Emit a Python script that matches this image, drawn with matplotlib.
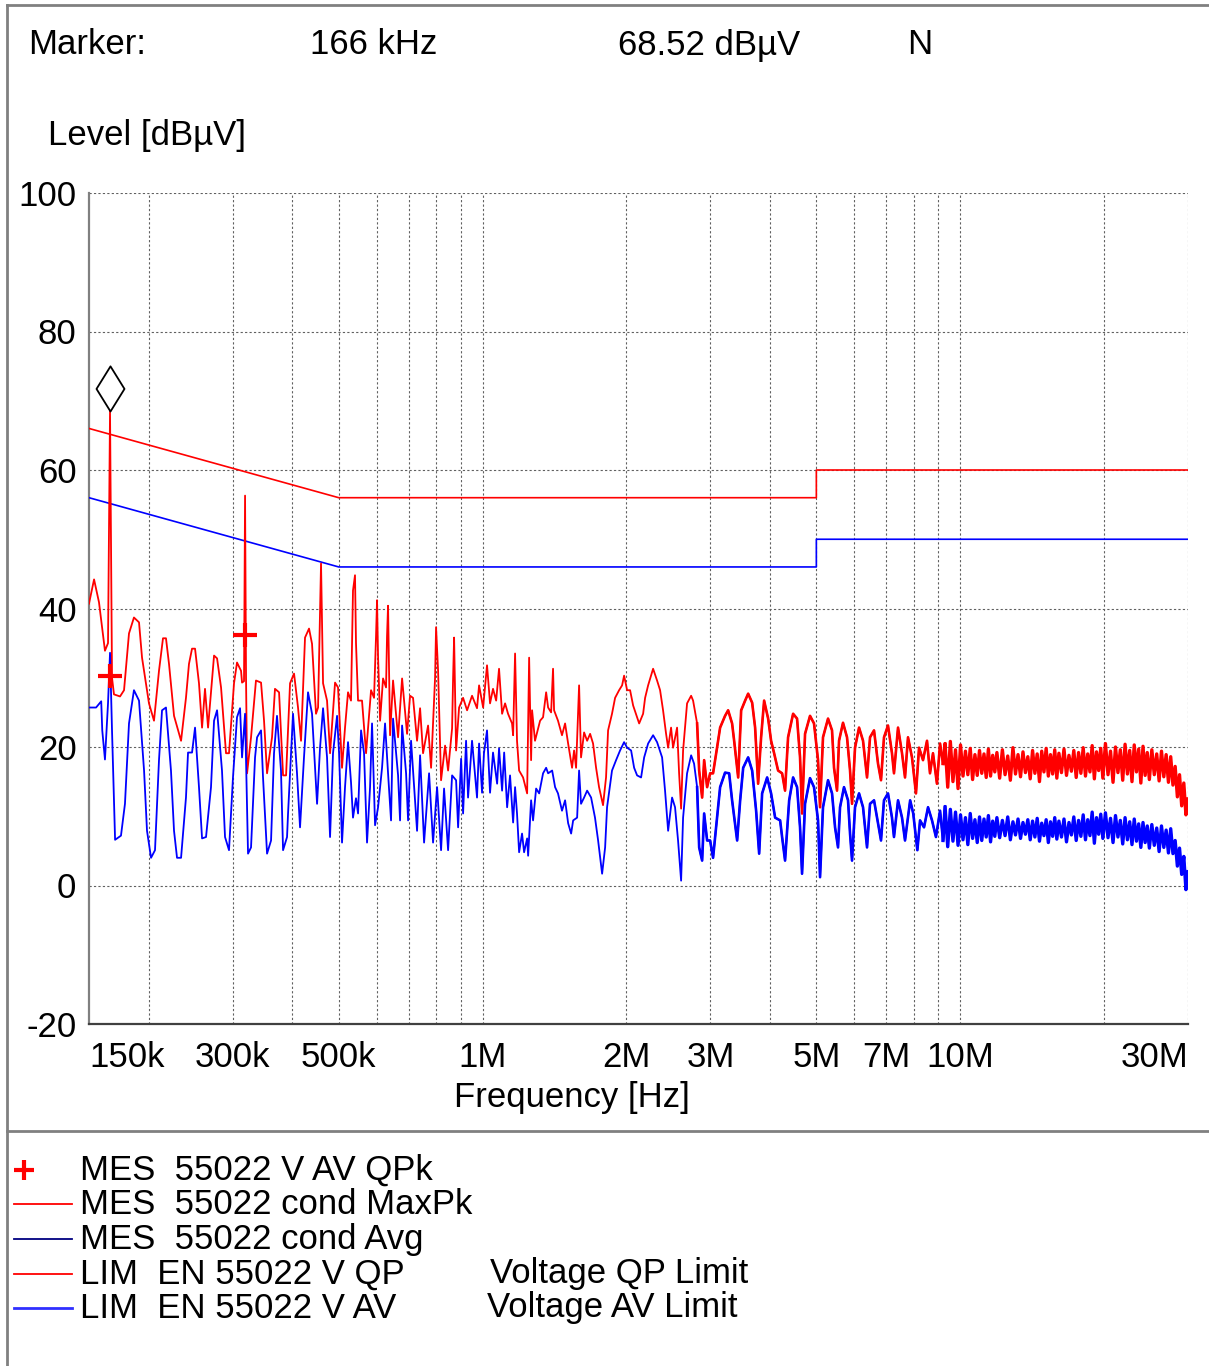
import matplotlib
matplotlib.use("Agg")
import matplotlib.pyplot as plt
from matplotlib.lines import Line2D
from matplotlib.path import Path
from matplotlib.ticker import FixedLocator, NullFormatter
from matplotlib.transforms import ScaledTranslation
import numpy as np

plt.rcParams['font.family'] = ['Liberation Sans', 'DejaVu Sans']

# ---------------------------------------------------------------------------
# Data (frequency in kHz, level in dBuV)
# ---------------------------------------------------------------------------

# MaxPk trace, 150 kHz - 1 MHz
red_f_low = [150.0, 153.7, 157.4, 162.0, 164.4, 166.0, 167.6, 169.2, 174.2, 177.6,
             181.9, 186.3, 190.9, 193.7, 200.3, 205.2, 210.2, 214.3, 217.4, 220.6,
             226.0, 233.8, 239.4, 242.9, 246.5, 250.1, 254.9, 258.7, 262.4, 266.3,
             274.1, 278.1, 283.5, 290.4, 294.6, 301.8, 306.2, 312.2, 313.7, 316.7,
             318.3, 319.8, 321.4, 327.6, 335.5, 343.8, 348.8, 353.9, 362.5, 367.7,
             375.0, 382.3, 387.9, 395.4, 403.1, 410.9, 416.9, 425.0, 433.3, 439.6,
             448.1, 452.6, 456.9, 459.1, 461.3, 463.6, 472.6, 479.5, 491.2, 498.3,
             508.0, 515.4, 522.9, 530.5, 535.6, 540.8, 543.4, 548.8, 559.4, 570.4,
             584.3, 592.8, 598.5, 601.4, 604.4, 610.3, 619.1, 628.1, 631.1, 634.2,
             640.4, 649.7, 665.6, 678.6, 695.1, 705.2, 715.4, 729.4, 740.1, 750.8,
             769.2, 780.4, 795.6, 799.4, 807.2, 818.9, 834.9, 847.1, 863.6, 867.8,
             872.0, 880.4, 893.2, 910.6, 928.3, 950.8, 973.9, 983.6]
red_l_low = [40.7, 44.2, 40.9, 33.9, 35.0, 68.5, 30.0, 27.6, 27.3, 28.2,
             36.4, 38.7, 38.0, 32.9, 26.3, 23.8, 31.0, 35.7, 35.7, 32.0,
             24.5, 20.9, 27.1, 32.0, 34.2, 34.2, 29.2, 22.8, 28.4, 22.8,
             33.2, 32.8, 28.6, 19.1, 19.1, 29.2, 32.2, 31.0, 29.3, 29.5,
             56.3, 30.0, 16.2, 21.4, 29.6, 29.3, 23.8, 16.2, 21.4, 28.4,
             27.9, 15.9, 15.9, 29.2, 30.6, 25.7, 20.9, 35.8, 37.1, 34.9,
             24.8, 25.7, 40.0, 46.5, 38.0, 29.2, 26.7, 19.1, 29.3, 28.6,
             17.0, 22.8, 27.9, 26.7, 42.6, 44.8, 35.0, 26.7, 26.7, 19.1,
             28.2, 27.1, 36.0, 41.2, 33.0, 23.8, 29.9, 28.6, 36.0, 40.4,
             21.7, 29.6, 21.4, 29.9, 21.9, 27.4, 27.1, 20.9, 25.6, 19.1,
             23.1, 17.0, 30.0, 37.3, 31.0, 15.2, 20.2, 16.6, 22.7, 30.0,
             35.8, 19.5, 25.7, 27.1, 25.3, 27.4, 25.6, 28.9]

# MaxPk trace, 1 MHz - 9.2 MHz
red_f_mid = [1003, 1022, 1037, 1052, 1068, 1083, 1099, 1115, 1131, 1153,
             1159, 1170, 1181, 1193, 1216, 1240, 1252, 1264, 1270, 1288,
             1320, 1339, 1359, 1372, 1392, 1405, 1412, 1439, 1467, 1489,
             1511, 1540, 1555, 1570, 1593, 1608, 1632, 1656, 1680, 1704,
             1729, 1754, 1788, 1814, 1832, 1867, 1895, 1932, 1960, 1979,
             2008, 2037, 2067, 2107, 2128, 2169, 2190, 2222, 2276, 2320,
             2354, 2388, 2423, 2447, 2482, 2506, 2555, 2580, 2605, 2630,
             2681, 2734, 2760, 2814, 2842, 2883, 2911, 2953, 2996, 3039,
             3098, 3144, 3220, 3268, 3331, 3364, 3430, 3480, 3547, 3599,
             3669, 3722, 3776, 3831, 3887, 3963, 4020, 4079, 4158, 4239,
             4300, 4363, 4470, 4556, 4622, 4667, 4735, 4850, 4944, 5041,
             5090, 5163, 5290, 5393, 5445, 5524, 5578, 5686, 5797, 5882,
             5939, 6025, 6143, 6262, 6384, 6477, 6603, 6731, 6829, 6928,
             7063, 7200, 7270, 7413, 7557, 7667, 7778, 7929, 8083, 8203,
             8362, 8525, 8648, 8774, 8943, 9078, 9209]
red_l_mid = [25.7, 31.8, 26.3, 28.4, 26.7, 31.3, 24.8, 26.3, 24.8, 23.4,
             21.7, 33.5, 20.9, 16.6, 15.6, 13.3, 32.9, 18.1, 25.3, 20.9,
             23.8, 24.3, 27.9, 25.7, 25.0, 31.3, 25.3, 23.8, 21.7, 23.4,
             20.5, 17.0, 19.5, 17.0, 28.9, 18.5, 22.1, 20.9, 21.9, 20.5,
             17.0, 14.2, 11.6, 15.6, 22.4, 24.8, 27.1, 28.2, 28.9, 30.3,
             28.2, 28.2, 26.0, 24.3, 23.4, 24.8, 27.1, 28.9, 31.3, 29.6,
             28.2, 25.3, 21.9, 19.9, 22.8, 19.9, 22.8, 16.2, 11.1, 19.5,
             26.3, 27.4, 26.7, 23.4, 16.6, 12.7, 18.1, 14.2, 16.2, 16.2,
             19.9, 22.8, 24.5, 25.3, 23.4, 20.9, 15.6, 25.3, 26.7, 27.7,
             26.4, 22.8, 14.7, 21.4, 26.7, 24.1, 20.9, 19.1, 16.6, 16.2,
             13.7, 21.4, 24.8, 24.1, 18.5, 10.4, 21.9, 24.5, 23.4, 18.1,
             11.3, 21.4, 24.1, 22.4, 17.0, 13.7, 20.9, 23.5, 21.4, 16.6,
             11.8, 19.9, 22.8, 20.9, 15.6, 21.4, 22.4, 17.6, 15.2, 21.4,
             23.1, 19.1, 16.2, 22.8, 19.1, 15.6, 21.4, 18.5, 13.3, 19.9,
             18.1, 20.9, 16.2, 19.1, 14.7, 20.5, 17.6]

# 9.3 MHz - 30 MHz (shared by both traces)
f_high = [9300, 9420, 9540, 9660, 9780, 9900,
          10020, 10140, 10260, 10380, 10500, 10620, 10740, 10860, 10980,
          11100, 11220, 11340, 11460, 11580, 11700, 11820, 11940,
          12100, 12260, 12420, 12580, 12740, 12900,
          13060, 13220, 13380, 13540, 13700, 13860,
          14020, 14180, 14340, 14500, 14660, 14820, 14980,
          15140, 15300, 15460, 15620, 15780, 15940,
          16100, 16300, 16500, 16700, 16900, 17100, 17300, 17500, 17700, 17900,
          18100, 18300, 18500, 18700, 18900, 19100, 19300, 19500, 19700, 19900,
          20150, 20400, 20650, 20900, 21150, 21400, 21650, 21900, 22150, 22400,
          22650, 22900, 23150, 23400, 23650, 23900, 24150, 24400, 24650, 24900,
          25200, 25500, 25800, 26100, 26400, 26700, 27000, 27300, 27600, 27900,
          28200, 28500, 28800, 29100, 29400, 29700, 30000]
red_l_high = [20.5, 14.2, 20.8, 15.0, 19.6, 14.0,
              20.3, 15.8, 19.4, 16.0, 19.8, 15.3, 18.9, 15.9, 19.5,
              16.2, 19.0, 15.6, 19.7, 15.8, 18.8, 16.4, 19.2,
              15.5, 19.6, 16.0, 18.7, 15.2, 19.9,
              16.1, 18.9, 15.7, 19.3, 16.3, 18.6,
              15.4, 19.5, 16.2, 19.0, 15.0, 19.4, 16.4,
              19.8, 15.8, 18.9, 16.1, 19.6, 15.5,
              19.1, 16.3, 19.7, 15.9, 18.8, 16.5, 19.5, 15.6, 19.2, 16.2,
              19.9, 15.8, 19.0, 16.4, 20.2, 15.4, 19.3, 16.6, 19.8, 15.5,
              20.5, 16.0, 19.4, 14.9, 20.0, 16.3, 19.6, 15.2, 20.4, 16.1,
              19.5, 15.0, 20.3, 16.4, 19.7, 14.8, 20.1, 15.9, 19.2, 15.3,
              19.6, 16.0, 19.0, 15.1, 19.4, 15.7, 18.9, 14.9, 18.6, 14.5,
              17.2, 12.8, 16.0, 11.5, 14.8, 10.2, 12.5]

# Avg trace, 150 kHz - 1 MHz
blue_f_low = [150.0, 155.2, 159.1, 159.9, 162.0, 164.4, 166.0, 167.6, 170.1, 175.0,
              178.4, 181.9, 186.3, 190.9, 195.6, 198.4, 202.3, 206.2, 210.2, 213.3,
              217.4, 222.7, 226.0, 229.3, 233.8, 239.4, 241.8, 246.5, 250.1, 254.9,
              258.7, 263.7, 270.1, 274.1, 278.1, 284.8, 289.0, 294.6, 300.3, 306.2,
              310.7, 313.7, 318.3, 322.9, 327.6, 334.0, 337.3, 343.8, 347.1, 353.9,
              360.8, 366.0, 371.3, 378.5, 382.3, 389.7, 391.6, 401.1, 408.9, 414.9,
              422.9, 431.2, 439.6, 450.4, 456.9, 463.6, 472.6, 479.5, 486.4, 496.0,
              500.8, 508.0, 515.4, 522.9, 530.5, 535.6, 543.4, 548.8, 556.8, 564.9,
              573.1, 581.5, 587.1, 595.7, 604.4, 616.1, 625.1, 634.2, 643.4, 649.7,
              665.6, 672.0, 678.6, 691.8, 698.5, 708.6, 715.4, 729.4, 740.1, 754.5,
              772.9, 787.9, 803.3, 818.9, 830.8, 847.1, 863.6, 880.4, 889.0, 902.0,
              910.6, 923.8, 932.7, 950.8, 973.9, 983.6, 997.9, 1007]
blue_l_low = [25.7, 25.7, 26.6, 22.4, 18.2, 26.3, 33.6, 22.4, 6.6, 7.2,
              11.8, 23.4, 28.2, 26.7, 16.6, 7.9, 4.0, 5.1, 18.1, 25.3,
              25.7, 16.6, 7.9, 4.0, 4.0, 12.7, 19.2, 19.2, 22.8, 14.2,
              6.8, 7.0, 14.2, 23.8, 25.3, 16.6, 7.0, 5.1, 15.6, 24.3,
              25.6, 18.5, 24.8, 4.6, 5.5, 18.5, 21.4, 22.4, 15.6, 4.6,
              6.5, 19.1, 24.5, 16.6, 5.1, 7.0, 10.4, 24.8, 16.2, 8.4,
              18.5, 27.9, 24.8, 11.8, 19.9, 25.6, 18.5, 7.0, 19.1, 24.5,
              19.1, 6.2, 14.2, 20.7, 14.9, 9.8, 12.6, 10.4, 22.4, 19.1,
              6.2, 14.2, 23.4, 8.7, 11.3, 17.0, 23.4, 16.2, 9.4, 24.1,
              15.9, 9.4, 23.1, 16.2, 9.4, 20.9, 16.6, 7.9, 18.8, 6.2,
              16.2, 6.2, 14.2, 5.1, 14.0, 5.1, 15.9, 15.2, 8.4, 18.3,
              10.4, 20.9, 12.7, 20.9, 12.7, 20.5, 13.4, 19.1]

# Avg trace, 1 MHz - 9.2 MHz
blue_f_mid = [1022, 1037, 1052, 1073, 1083, 1099, 1110, 1126, 1142, 1159,
              1170, 1181, 1193, 1210, 1222, 1240, 1246, 1264, 1276, 1295,
              1314, 1339, 1359, 1372, 1399, 1419, 1439, 1467, 1489, 1511,
              1533, 1548, 1578, 1593, 1608, 1632, 1656, 1688, 1720, 1746,
              1780, 1806, 1823, 1867, 1904, 1941, 1979, 2008, 2047, 2077,
              2107, 2148, 2180, 2222, 2276, 2320, 2377, 2411, 2447, 2494,
              2530, 2567, 2605, 2630, 2681, 2734, 2773, 2814, 2842, 2883,
              2911, 2953, 2996, 3039, 3098, 3144, 3220, 3284, 3331, 3413,
              3463, 3514, 3599, 3669, 3740, 3795, 3850, 3944, 4020, 4099,
              4199, 4239, 4300, 4386, 4470, 4556, 4622, 4667, 4735, 4850,
              4944, 5041, 5090, 5163, 5290, 5393, 5472, 5551, 5605, 5713,
              5825, 5882, 5939, 6025, 6143, 6262, 6384, 6477, 6603, 6731,
              6829, 6928, 7063, 7200, 7270, 7413, 7557, 7667, 7859, 7977,
              8137, 8243, 8403, 8567, 8733, 8900, 9078, 9209]
blue_l_mid = [22.4, 13.4, 19.2, 14.7, 19.8, 13.7, 19.2, 11.3, 15.9, 9.1,
              14.2, 10.4, 4.8, 7.5, 4.8, 6.8, 4.3, 12.3, 9.4, 14.0,
              13.3, 16.2, 17.0, 16.2, 16.6, 14.2, 13.3, 10.8, 12.3, 9.0,
              7.5, 9.4, 9.8, 16.6, 11.8, 12.7, 13.7, 12.7, 9.8, 6.5,
              1.7, 5.5, 11.3, 16.6, 18.1, 19.5, 20.7, 19.9, 19.5, 17.0,
              15.9, 15.6, 18.5, 20.5, 21.7, 20.7, 18.5, 13.7, 7.9, 12.7,
              11.3, 6.5, 0.7, 9.8, 16.2, 18.8, 17.6, 14.2, 5.5, 3.6,
              10.4, 6.5, 6.5, 4.0, 9.8, 14.2, 16.3, 16.2, 12.3, 6.5,
              12.3, 17.0, 18.5, 16.6, 10.8, 4.6, 13.3, 15.6, 13.3, 9.8,
              9.4, 7.0, 3.6, 12.3, 15.6, 14.2, 8.4, 1.7, 11.8, 15.5,
              14.2, 9.4, 1.2, 11.3, 15.2, 13.3, 8.4, 5.5, 11.3, 14.2,
              12.3, 7.5, 3.6, 11.3, 13.3, 11.3, 5.5, 11.8, 12.3, 9.0,
              6.5, 12.3, 13.3, 9.8, 7.0, 12.3, 9.8, 6.5, 12.3, 10.4,
              5.1, 9.4, 8.4, 11.3, 9.4, 7.0, 10.8, 6.5]

blue_l_high = [11.4, 5.6, 11.0, 6.4, 10.6, 5.8,
               10.2, 6.6, 9.8, 5.9, 10.4, 6.8, 9.5, 6.2, 9.9,
               6.5, 9.6, 7.0, 10.1, 6.3, 9.3, 7.1, 9.8,
               6.9, 9.4, 7.2, 9.9, 6.6, 9.2,
               7.3, 9.6, 6.8, 9.1, 7.4, 9.5,
               6.6, 9.3, 7.0, 9.7, 6.4, 9.0, 7.2,
               9.5, 6.2, 9.2, 7.1, 9.8, 6.7,
               9.3, 7.0, 9.6, 6.3, 9.1, 7.3, 9.9, 6.5, 9.4, 7.1,
               10.2, 6.6, 9.5, 7.2, 10.6, 6.1, 9.8, 7.4, 10.3, 6.8,
               10.5, 6.9, 9.7, 6.2, 10.1, 7.0, 9.4, 6.0, 9.8, 6.6,
               9.2, 5.9, 9.6, 6.4, 8.9, 5.5, 9.1, 6.2, 8.6, 5.4,
               8.8, 5.8, 8.3, 4.9, 8.6, 5.5, 8.0, 4.7, 8.2, 4.6,
               6.5, 2.8, 5.4, 1.6, 4.2, -0.6, 2.0]

# limit lines EN 55022 (kHz, dBuV)
lim_f = [150, 500, 500, 5000, 5000, 30000]
lim_qp = [66, 56, 56, 56, 60, 60]
lim_av = [56, 46, 46, 46, 50, 50]

# final quasi-peak measurements and marker
qp_f = [166, 318]
qp_l = [30.3, 36.2]
marker_f = 166
marker_l = 68.52

xtick_f = [150, 300, 500, 1000, 2000, 3000, 5000, 7000, 10000, 30000]
xtick_lab = ['150k', '300k', '500k', '1M', '2M', '3M', '5M', '7M', '10M', '30M']
xgrid_f = [200, 300, 400, 500, 600, 700, 800, 900, 1000, 2000, 3000, 4000,
           5000, 6000, 7000, 8000, 9000, 10000, 20000, 30000]
ytick_v = [-20, 0, 20, 40, 60, 80, 100]

legend_labels = ['MES  55022 V AV QPk', 'MES  55022 cond MaxPk', 'MES  55022 cond Avg',
                 'LIM  EN 55022 V QP', 'LIM  EN 55022 V AV']
legend_notes = ['', '', '', 'Voltage QP Limit', 'Voltage AV Limit']

# ---------------------------------------------------------------------------
RED = '#ff0000'
BLUE = '#0000ff'
FS = 25

red_f = np.array(red_f_low + red_f_mid + f_high) * 1e3
red_l = np.array(red_l_low + red_l_mid + red_l_high)
blue_f = np.array(blue_f_low + blue_f_mid + f_high) * 1e3
blue_l = np.array(blue_l_low + blue_l_mid + blue_l_high)

fig = plt.figure(figsize=(12.09, 13.66), dpi=100)
ax = fig.add_axes([89 / 1209, 1 - 1024 / 1366, 1099 / 1209, 831 / 1366])

ax.plot(np.array(lim_f) * 1e3, lim_qp, color=RED, lw=1.2, zorder=3)
ax.plot(np.array(lim_f) * 1e3, lim_av, color=BLUE, lw=1.2, zorder=3)
ax.plot(red_f, red_l, color=RED, lw=1.3, zorder=4)
ax.plot(blue_f, blue_l, color=BLUE, lw=1.3, zorder=4)

# the sweep gets denser with frequency and prints as a thick band
for f_lo, f_hi, w in [(2.8e6, 9.4e6, 1.9), (9.2e6, 31e6, 2.4)]:
    m = (red_f >= f_lo) & (red_f <= f_hi)
    ax.plot(red_f[m], red_l[m], color=RED, lw=w, zorder=4)
    m = (blue_f >= f_lo) & (blue_f <= f_hi)
    ax.plot(blue_f[m], blue_l[m], color=BLUE, lw=w, zorder=4)

ax.plot(np.array(qp_f) * 1e3, qp_l, ls='none', marker='+', ms=17, mew=3,
        color=RED, zorder=6)

# diamond marker sitting on top of the peak
diamond = Path([(0, 0), (0.31, 0.5), (0, 1), (-0.31, 0.5), (0, 0)],
               [Path.MOVETO, Path.LINETO, Path.LINETO, Path.LINETO, Path.CLOSEPOLY])
ax.plot([marker_f * 1e3], [marker_l], ls='none', marker=diamond, ms=65,
        mfc='white', mec='black', mew=1.3, zorder=7)

ax.set_xscale('log')
ax.set_xlim(150e3, 30e6)
ax.set_ylim(-20, 100)

ax.xaxis.remove_overlapping_locs = False
ax.xaxis.set_major_locator(FixedLocator(np.array(xtick_f) * 1e3))
ax.set_xticklabels(xtick_lab, fontsize=FS)
ax.xaxis.set_minor_locator(FixedLocator(np.array(xgrid_f) * 1e3))
ax.xaxis.set_minor_formatter(NullFormatter())
labs = ax.get_xticklabels()
labs[0].set_ha('left')
labs[-1].set_ha('right')
labs[-1].set_transform(labs[-1].get_transform() +
                       ScaledTranslation(5 / 100, 0, fig.dpi_scale_trans))
ax.set_yticks(ytick_v)
ax.set_yticklabels([str(v) for v in ytick_v], fontsize=FS)
ax.tick_params(which='both', length=0)
ax.tick_params(axis='x', pad=12)
ax.tick_params(axis='y', pad=9)

gstyle = dict(color='#606060', linestyle=(0, (2, 2)), linewidth=0.8)
ax.grid(True, which='minor', axis='x', **gstyle)
ax.grid(True, which='major', axis='y', **gstyle)
ax.set_axisbelow(True)

ax.spines['top'].set_visible(False)
ax.spines['right'].set_visible(False)
ax.spines['left'].set_color('#808080')
ax.spines['left'].set_linewidth(1.6)
ax.spines['bottom'].set_color('#404040')
ax.spines['bottom'].set_linewidth(1.6)

# header texts
fig.text(28 / 1209, 1 - 45 / 1366, 'Marker:', fontsize=FS, va='center')
fig.text(310 / 1209, 1 - 45 / 1366, '166 kHz', fontsize=FS, va='center')
fig.text(618 / 1209, 1 - 45 / 1366, '68.52 dBµV', fontsize=FS, va='center')
fig.text(907 / 1209, 1 - 45 / 1366, 'N', fontsize=FS, va='center')
fig.text(48 / 1209, 1 - 136 / 1366, 'Level [dBµV]', fontsize=FS, va='center')
fig.text(572 / 1209, 1 - 1097 / 1366, 'Frequency [Hz]', fontsize=FS,
         va='center', ha='center')

# frame of the printout
frame = dict(color='#808080', lw=2, transform=fig.transFigure)
fig.add_artist(Line2D([7 / 1209, 1], [1 - 5 / 1366] * 2, **frame))
fig.add_artist(Line2D([7 / 1209] * 2, [0, 1 - 5 / 1366], **frame))
fig.add_artist(Line2D([7 / 1209, 1], [1 - 1131 / 1366] * 2, **frame))

# legend block
row_y = [1170, 1204, 1239, 1274, 1308]
row_col = [RED, RED, '#000080', RED, '#3030ff']
for i, lab in enumerate(legend_labels):
    yy = 1 - row_y[i] / 1366
    if i == 0:
        fig.add_artist(Line2D([24 / 1209], [yy], marker='+', ms=15, mew=3,
                              color=RED, transform=fig.transFigure))
    else:
        fig.add_artist(Line2D([14 / 1209, 72 / 1209], [yy, yy], color=row_col[i],
                              lw=1.3 if i < 4 else 2, transform=fig.transFigure))
    fig.text(80 / 1209, yy, lab, fontsize=FS, va='center')
    if legend_notes[i]:
        xn = 490 if i == 3 else 487
        fig.text(xn / 1209, yy, legend_notes[i], fontsize=FS, va='center')

fig.savefig('out.png', dpi=100, facecolor='white')
